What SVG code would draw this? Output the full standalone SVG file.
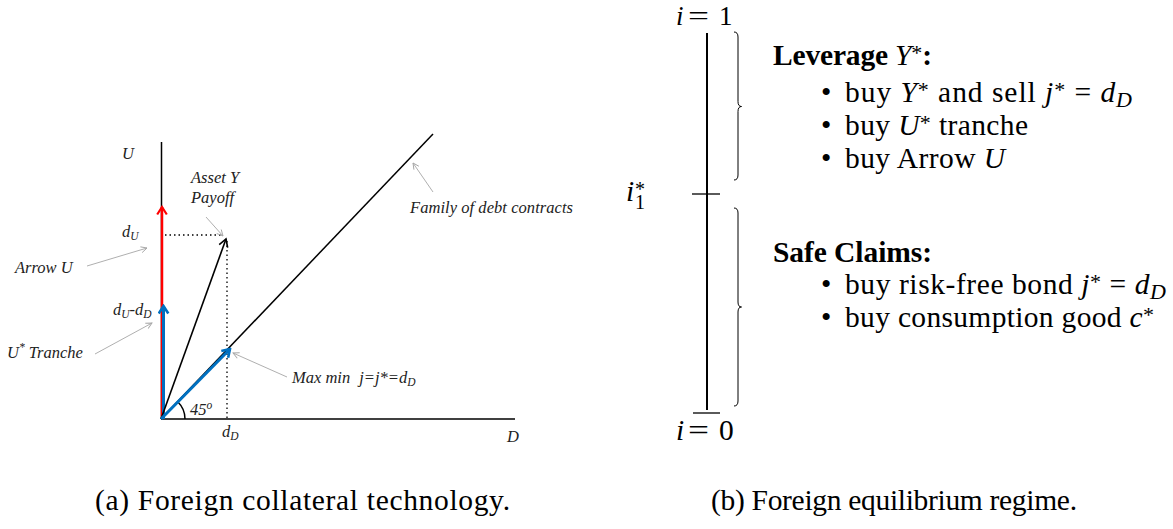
<svg xmlns="http://www.w3.org/2000/svg" width="1173" height="529" viewBox="0 0 1173 529">
<style>
.lbl{font-family:"Liberation Serif","Times New Roman",serif;font-style:italic;font-size:16.5px;fill:#222}
.sub{font-size:11.5px}
.txt{font-family:"Liberation Serif","Times New Roman",serif;font-size:29.5px;fill:#000}
.it{font-style:italic}
.b{font-weight:bold}
.sm{font-size:22px}
.axis{stroke:#000;stroke-width:1.5;fill:none}
.dot{stroke:#000;stroke-width:1.3;stroke-dasharray:1.5 3;fill:none}
.gray{stroke:#a6a6a6;stroke-width:0.9;fill:none;marker-end:url(#mg)}
</style>
<defs>
<marker id="mr" viewBox="-10 -6 12 12" markerWidth="12" markerHeight="12" refX="0" refY="0" orient="auto" markerUnits="userSpaceOnUse"><path d="M-7.5,-4.8 L0,0 L-7.5,4.8" fill="none" stroke="#ff0000" stroke-width="2.2"/></marker>
<marker id="mb" viewBox="-10 -6 12 12" markerWidth="12" markerHeight="12" refX="0" refY="0" orient="auto" markerUnits="userSpaceOnUse"><path d="M-7.5,-4.8 L0,0 L-7.5,4.8" fill="none" stroke="#0070c0" stroke-width="2.6"/></marker>
<marker id="mk" viewBox="-10 -6 12 12" markerWidth="12" markerHeight="12" refX="0" refY="0" orient="auto" markerUnits="userSpaceOnUse"><path d="M-7.5,-4.5 L0,0 L-7.5,4.5" fill="none" stroke="#000" stroke-width="1.6"/></marker>
<marker id="mg" viewBox="-8 -5 10 10" markerWidth="10" markerHeight="10" refX="0" refY="0" orient="auto" markerUnits="userSpaceOnUse"><path d="M-6,-3 L0,0 L-6,3" fill="none" stroke="#a6a6a6" stroke-width="0.9"/></marker>
</defs>

<!-- Panel (a) -->
<g id="axes">
<line class="axis" x1="161.5" y1="142" x2="161.5" y2="419"/>
<line class="axis" x1="161" y1="419" x2="515" y2="419"/>
<line class="axis" x1="161" y1="419" x2="433" y2="134"/>
<path class="axis" d="M185,419 A24,24 0 0 0 177.7,401.7" stroke-width="1.2"/>
<line class="dot" x1="165" y1="235" x2="222" y2="235"/>
<line class="dot" x1="227" y1="241" x2="227" y2="419"/>
</g>
<g id="connectors">
<line x1="162" y1="419" x2="162" y2="207" stroke="#ff0000" stroke-width="2.5" marker-end="url(#mr)"/>
<line x1="163.5" y1="419" x2="163.5" y2="306" stroke="#0070c0" stroke-width="3" marker-end="url(#mb)"/>
<line x1="161" y1="419" x2="226" y2="239" stroke="#000" stroke-width="1.6" marker-end="url(#mk)"/>
<line x1="161" y1="419" x2="230" y2="349" stroke="#0070c0" stroke-width="3" marker-end="url(#mb)"/>
<line class="gray" x1="87" y1="266" x2="147" y2="248"/>
<line class="gray" x1="95" y1="354" x2="152" y2="323"/>
<line class="gray" x1="206" y1="217" x2="223" y2="236"/>
<line class="gray" x1="433" y1="192" x2="413" y2="163"/>
<line class="gray" x1="287" y1="377" x2="233" y2="353"/>
</g>
<g id="labels-a">
<text class="lbl" x="122" y="159">U</text>
<text class="lbl" x="191" y="183">Asset Y</text>
<text class="lbl" x="191" y="203">Payoff</text>
<text class="lbl" x="410" y="213" textLength="163" lengthAdjust="spacing">Family of debt contracts</text>
<text class="lbl" x="122" y="237">d<tspan class="sub" dy="3">U</tspan></text>
<text class="lbl" x="15" y="273">Arrow U</text>
<text class="lbl" x="113" y="315">d<tspan class="sub" dy="3">U</tspan><tspan dy="-3">-d</tspan><tspan class="sub" dy="3">D</tspan></text>
<text class="lbl" x="7" y="358">U<tspan class="sub" dy="-7">*</tspan><tspan dy="7"> Tranche</tspan></text>
<text class="lbl" x="292" y="383">Max min<tspan dx="9">j=j*=d</tspan><tspan class="sub" dy="3">D</tspan></text>
<text class="lbl" x="190" y="415">45<tspan class="sub" dy="-6">o</tspan></text>
<text class="lbl" x="222" y="437">d<tspan class="sub" dy="3">D</tspan></text>
<text class="lbl" x="507" y="442">D</text>
</g>

<!-- Panel (b) -->
<g id="scale">
<line x1="707" y1="33" x2="707" y2="410" stroke="#000" stroke-width="2"/>
<line x1="692" y1="194" x2="720" y2="194" stroke="#000" stroke-width="1.3"/>
<line x1="693" y1="413" x2="720" y2="413" stroke="#000" stroke-width="1.3"/>
<path d="M734,32 Q738,32 738,37 L738,101.5 Q738,106.5 741.5,106.5 Q738,106.5 738,111.5 L738,175 Q738,180 734,180" fill="none" stroke="#000" stroke-width="1"/>
<path d="M734,208 Q738,208 738,213 L738,302 Q738,307 741.5,307 Q738,307 738,312 L738,401 Q738,406 734,406" fill="none" stroke="#000" stroke-width="1"/>
<text class="txt" y="25" style="font-size:27px"><tspan class="it" x="676">i</tspan><tspan x="688" textLength="21" lengthAdjust="spacingAndGlyphs">=</tspan><tspan x="719">1</tspan></text>
<text class="txt" y="201"><tspan class="it" x="626">i</tspan><tspan class="sm" x="635" y="196" style="font-size:20px">*</tspan><tspan class="sm" x="635" y="209" style="font-size:20px">1</tspan></text>
<text class="txt" y="440"><tspan class="it" x="676">i</tspan><tspan x="688" textLength="21" lengthAdjust="spacingAndGlyphs">=</tspan><tspan x="719">0</tspan></text>
</g>
<g id="leverage">
<text class="txt" x="773" y="65" textLength="159" lengthAdjust="spacing"><tspan class="b">Leverage </tspan><tspan class="it">Y</tspan><tspan class="sm" dy="-5">*</tspan><tspan class="b" dy="5">:</tspan></text>
<text class="txt" x="821" y="102">•</text>
<text class="txt" x="845" y="102" textLength="287" lengthAdjust="spacing">buy <tspan class="it">Y</tspan><tspan class="sm" dy="-5">*</tspan><tspan dy="5"> and sell </tspan><tspan class="it">j</tspan><tspan class="sm" dy="-5">*</tspan><tspan dy="5"> = </tspan><tspan class="it">d</tspan><tspan class="sm it" dy="5">D</tspan></text>
<text class="txt" x="821" y="135">•</text>
<text class="txt" x="845" y="135" textLength="183" lengthAdjust="spacing">buy <tspan class="it">U</tspan><tspan class="sm" dy="-5">*</tspan><tspan dy="5"> tranche</tspan></text>
<text class="txt" x="821" y="168">•</text>
<text class="txt" x="845" y="168" textLength="160" lengthAdjust="spacing">buy Arrow <tspan class="it">U</tspan></text>
</g>
<g id="safe">
<text class="txt b" x="773" y="262" textLength="159" lengthAdjust="spacing">Safe Claims:</text>
<text class="txt" x="821" y="294">•</text>
<text class="txt" x="845" y="294" textLength="321" lengthAdjust="spacing">buy risk-free bond <tspan class="it">j</tspan><tspan class="sm" dy="-5">*</tspan><tspan dy="5"> = </tspan><tspan class="it">d</tspan><tspan class="sm it" dy="5">D</tspan></text>
<text class="txt" x="821" y="327">•</text>
<text class="txt" x="845" y="327" textLength="309" lengthAdjust="spacing">buy consumption good <tspan class="it">c</tspan><tspan class="sm" dy="-5">*</tspan></text>
</g>
<g id="captions">
<text class="txt" x="95" y="510" textLength="415" lengthAdjust="spacing">(a) Foreign collateral technology.</text>
<text class="txt" x="711" y="510" textLength="366" lengthAdjust="spacing">(b) Foreign equilibrium regime.</text>
</g>
</svg>
